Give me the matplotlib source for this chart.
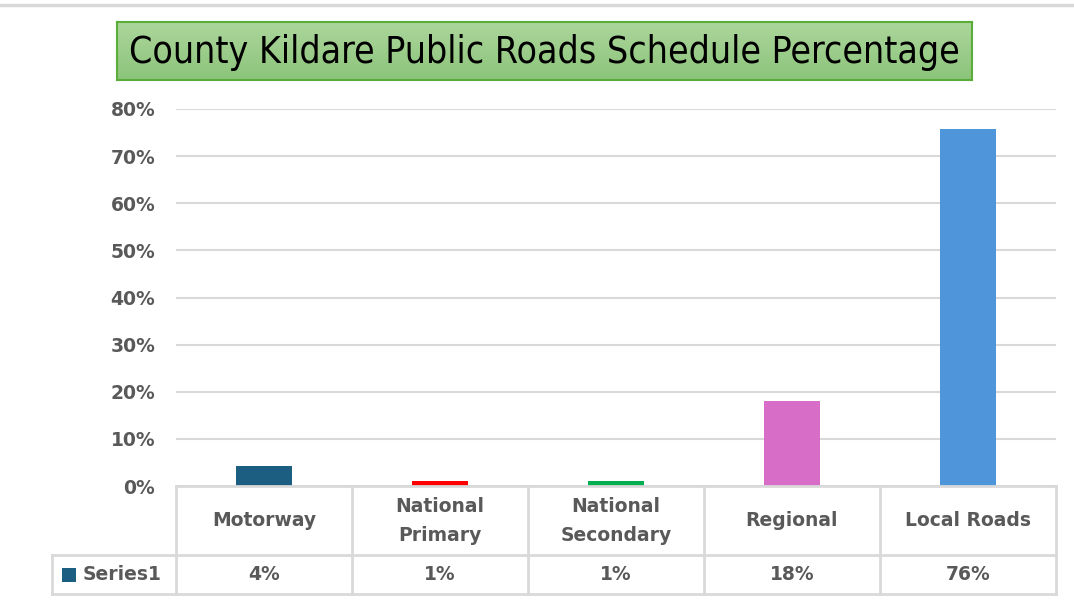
import matplotlib.pyplot as plt
import numpy as np
from matplotlib.patches import Rectangle
from matplotlib.lines import Line2D
from matplotlib.colors import LinearSegmentedColormap
from matplotlib import font_manager

categories = ["Motorway", "National\nPrimary", "National\nSecondary", "Regional", "Local Roads"]
values = [0.042, 0.011, 0.011, 0.18, 0.758]
value_labels = ["4%", "1%", "1%", "18%", "76%"]
colors = ["#1b5e82", "#ff0000", "#00b050", "#d76dc7", "#4e95d9"]
yticks = [0, 0.1, 0.2, 0.3, 0.4, 0.5, 0.6, 0.7, 0.8]

names = {f.name for f in font_manager.fontManager.ttflist}
narrow = [n for n in ["Liberation Sans Narrow", "DejaVu Sans Condensed"] if n in names]

W, H = 1074, 605
fig = plt.figure(figsize=(W / 100, H / 100), dpi=100)
text_col = "#595959"
grid_col = "#d9d9d9"

def fx(px):
    return px / W

def fy(py):
    return 1 - py / H

# top separator line
fig.add_artist(Line2D([0, 1], [fy(5), fy(5)], color="#d9d9d9", lw=2.5))

# title box with a soft vertical gradient
tax = fig.add_axes([fx(117), fy(80), fx(972) - fx(117), fy(22) - fy(80)])
cmap = LinearSegmentedColormap.from_list("g", ["#acd69c", "#8cc47a"])
tax.imshow(np.linspace(0, 1, 50).reshape(-1, 1), aspect="auto", cmap=cmap,
           extent=[0, 1, 0, 1])
tax.set_xticks([])
tax.set_yticks([])
for s in tax.spines.values():
    s.set_color("#5aad3a")
    s.set_linewidth(1.5)
title_fam = narrow + ["DejaVu Sans"]
tax.text(0.5, 0.48, "County Kildare Public Roads Schedule Percentage",
         ha="center", va="center", fontsize=26.8, color="black",
         family=title_fam, fontstretch="condensed", transform=tax.transAxes)

# bar axes
ax = fig.add_axes([fx(176), fy(486), fx(1056) - fx(176), fy(109) - fy(486)])
x = range(len(categories))
ax.bar(x, values, width=0.32, color=colors, zorder=3)
ax.set_xlim(-0.5, 4.5)
ax.set_ylim(0, 0.8)
ax.set_yticks(yticks)
ax.set_yticklabels([f"{int(round(t * 100))}%" for t in yticks],
                   fontsize=13.5, fontweight="bold", color=text_col)
ax.tick_params(axis="y", length=0, pad=15)
ax.set_xticks([])
ax.grid(axis="y", color=grid_col, lw=1.5, zorder=0)
for s in ax.spines.values():
    s.set_visible(False)

# data table
left_px = 52
tab = fig.add_axes([fx(left_px), fy(594), fx(1056) - fx(left_px), fy(486) - fy(594)])
x0 = -0.5 - (176 - left_px) / 176
tab.set_xlim(x0, 4.5)
tab.set_ylim(108, 0)
tab.axis("off")
lw = 2
tab.plot([-0.5, 4.5], [0, 0], color=grid_col, lw=lw, clip_on=False)
tab.plot([x0, 4.5], [69, 69], color=grid_col, lw=lw, clip_on=False)
tab.plot([x0, 4.5], [108, 108], color=grid_col, lw=lw, clip_on=False)
tab.plot([x0, x0], [69, 108], color=grid_col, lw=lw, clip_on=False)
for i in range(len(categories) + 1):
    tab.plot([i - 0.5, i - 0.5], [0, 108], color=grid_col, lw=lw, clip_on=False)

for i, (c, v) in enumerate(zip(categories, value_labels)):
    tab.text(i, 35, c, ha="center", va="center", fontsize=13.5, fontweight="bold",
             color=text_col, linespacing=1.65)
    tab.text(i, 89, v, ha="center", va="center", fontsize=13.5, fontweight="bold",
             color=text_col)

# legend key in table
tab.add_patch(Rectangle((x0 + 10 / 176, 82), 14 / 176, 14, facecolor=colors[0],
                        edgecolor="none", clip_on=False))
tab.text(x0 + 31 / 176, 89, "Series1", ha="left", va="center", fontsize=13.5,
         fontweight="bold", color=text_col)

fig.savefig("out.png", dpi=100)
